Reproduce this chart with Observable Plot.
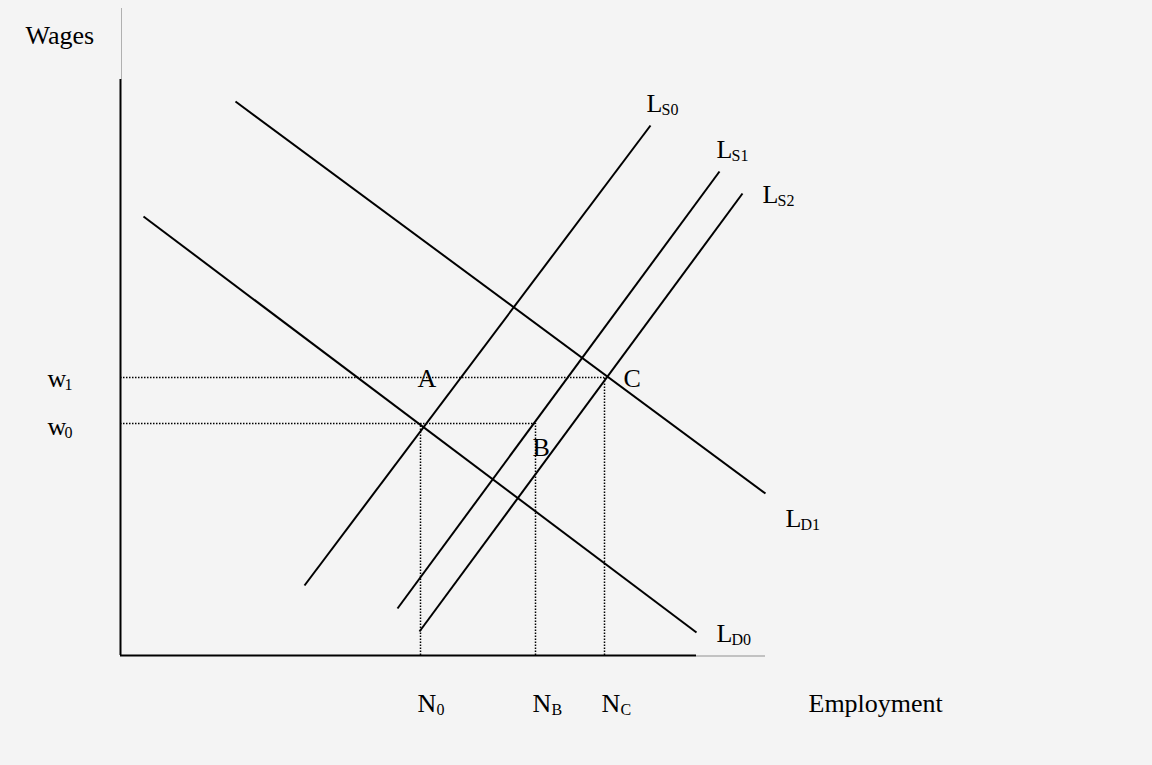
<!DOCTYPE html>
<html>
<head>
<meta charset="utf-8">
<script src="https://cdn.jsdelivr.net/npm/d3@7"></script>
<script src="https://cdn.jsdelivr.net/npm/@observablehq/plot@0.6"></script>
<style>
  html, body { margin: 0; padding: 0; background: #f4f4f4; }
  #chart svg { display: block; }
</style>
</head>
<body>
<div id="chart"></div>
<script>
// Curves: [employment, wage] endpoints (chart units, origin at the axes corner)
const curveNames = ["LS0", "LS1", "LS2", "LD0", "LD1"];
const curveStart = [[184, 70], [277, 47], [299, 24], [23, 439], [115, 554]];
const curveEnd   = [[530, 530], [599, 484], [622, 462], [576, 23], [645, 162]];

// Wage levels and employment levels
const wageNames = ["w1", "w0"];
const wageLevels = [278, 232];
const empNames = ["N0", "NB", "NC"];
const empLevels = [300, 415, 484];
const empWage = [232, 232, 278];

// Axis extents
const axisBlackEnd = [576, 576];   // x-axis, y-axis black portion
const axisFullEnd = [645, 647];

// Curve labels: main letter, subscript, anchor
const curveLabelSub = ["S0", "S1", "S2", "D0", "D1"];
const curveLabelPos = [[526, 544], [596, 498], [642, 453], [596, 14], [665, 129]];

// Point labels
const pointNames = ["A", "B", "C"];
const pointPos = [[297, 269], [412, 200], [503, 269]];

// Tick labels
const wageLabelPos = [[-73, 269], [-73, 221]];
const wageLabelSub = ["1", "0"];
const empLabelPos = [[297, -56], [412, -56], [481, -56]];
const empLabelSub = ["0", "B", "C"];

const yTitle = {text: "Wages", pos: [-95, 612]};
const xTitle = {text: "Employment", pos: [688, -56]};

const curves = curveNames.map((n, i) => ({
  name: n, x1: curveStart[i][0], y1: curveStart[i][1], x2: curveEnd[i][0], y2: curveEnd[i][1]
}));
const hDots = wageNames.map((n, i) => ({
  name: n, x1: 0, x2: i === 0 ? empLevels[2] : empLevels[1], y: wageLevels[i]
}));
const vDots = empNames.map((n, i) => ({ name: n, x: empLevels[i], y1: 0, y2: empWage[i] }));

const font = "'Liberation Serif', 'Times New Roman', Times, serif";
const main = 26, sub = 16;

const Lmain = curveLabelPos.map((p, i) => ({x: p[0], y: p[1], t: "L", s: curveLabelSub[i]}));
const wmain = wageLabelPos.map((p, i) => ({x: p[0], y: p[1], t: "w", s: wageLabelSub[i]}));
const Nmain = empLabelPos.map((p, i) => ({x: p[0], y: p[1], t: "N", s: empLabelSub[i]}));
const pts = pointPos.map((p, i) => ({x: p[0], y: p[1], t: pointNames[i]}));

const textOpts = {fontFamily: font, fill: "black", textAnchor: "start", lineAnchor: "bottom"};

const chart = Plot.plot({
  width: 1152,
  height: 765,
  marginLeft: 120,
  marginRight: 387,
  marginTop: 8,
  marginBottom: 110,
  style: {background: "#f4f4f4", overflow: "visible"},
  x: {domain: [0, 645], axis: null},
  y: {domain: [0, 647], axis: null},
  marks: [
    // axes
    Plot.ruleX([0], {y1: axisBlackEnd[1], y2: axisFullEnd[1], stroke: "#b0b0b0", strokeWidth: 1, dx: 1}),
    Plot.ruleY([0], {x1: axisBlackEnd[0], x2: axisFullEnd[0], stroke: "#909090", strokeWidth: 1, dy: 0.5}),
    Plot.ruleX([0], {y1: 0, y2: axisBlackEnd[1], stroke: "black", strokeWidth: 2}),
    Plot.ruleY([0], {x1: 0, x2: axisBlackEnd[0], stroke: "black", strokeWidth: 2}),
    // dotted guides
    Plot.ruleY(hDots, {y: "y", x1: "x1", x2: "x2", stroke: "black", strokeWidth: 1.5, strokeDasharray: "1.5 1.5"}),
    Plot.ruleX(vDots, {x: "x", y1: "y1", y2: "y2", stroke: "black", strokeWidth: 1.5, strokeDasharray: "1.5 1.5"}),
    // curves
    Plot.link(curves, {x1: "x1", y1: "y1", x2: "x2", y2: "y2", stroke: "black", strokeWidth: 2}),
    // labels
    Plot.text(Lmain, {x: "x", y: "y", text: "t", fontSize: main, ...textOpts}),
    Plot.text(Lmain, {x: "x", y: "y", text: "s", fontSize: sub, dx: 15, dy: 3, ...textOpts}),
    Plot.text(wmain, {x: "x", y: "y", text: "t", fontSize: main, ...textOpts}),
    Plot.text(wmain, {x: "x", y: "y", text: "s", fontSize: sub, dx: 17, dy: 3, ...textOpts}),
    Plot.text(Nmain, {x: "x", y: "y", text: "t", fontSize: main, ...textOpts}),
    Plot.text(Nmain, {x: "x", y: "y", text: "s", fontSize: sub, dx: 19, dy: 3, ...textOpts}),
    Plot.text(pts, {x: "x", y: "y", text: "t", fontSize: main, ...textOpts}),
    Plot.text([yTitle], {x: d => d.pos[0], y: d => d.pos[1], text: "text", fontSize: main, ...textOpts}),
    Plot.text([xTitle], {x: d => d.pos[0], y: d => d.pos[1], text: "text", fontSize: main, ...textOpts})
  ]
});
document.getElementById("chart").appendChild(chart);
</script>
</body>
</html>
